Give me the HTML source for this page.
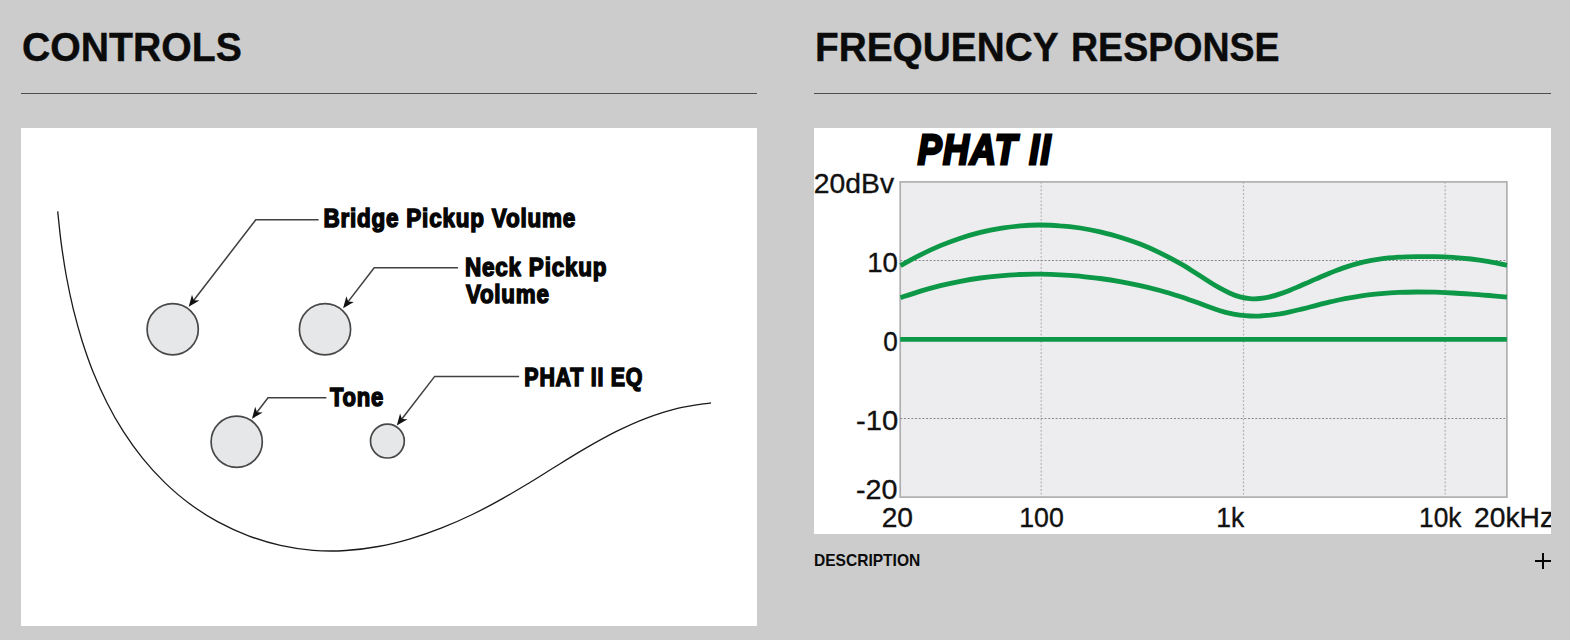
<!DOCTYPE html>
<html lang="en">
<head>
<meta charset="utf-8">
<title>Controls / Frequency Response</title>
<style>
html,body{margin:0;padding:0}
body{width:1570px;height:640px;overflow:hidden;background:#cccccc;font-family:"Liberation Sans",Arial,Helvetica,sans-serif;position:relative}
.t{position:absolute;margin:0;padding:0;white-space:nowrap;line-height:1;font-weight:bold;transform-origin:0 0;display:block}
.rule{position:absolute;height:1px;background:#4d4d4d;top:93px}
.fig{position:absolute;background:#fff;overflow:hidden}
.fig svg{display:block}
svg text{font-family:"Liberation Sans",Arial,Helvetica,sans-serif}
.plus{position:absolute;left:1535px;top:553px;width:16px;height:16px}
.plus i{position:absolute;background:#050505;display:block}
.plus i.h{left:0;top:7px;width:16px;height:2px}
.plus i.v{left:7px;top:0;width:2px;height:16px}
</style>
</head>
<body>
<section class="col controls">
<h2 class="t " style="left:21.98px;top:26.53px;font-size:41.42px;transform:scaleX(0.9459);color:#0b0b0b;-webkit-text-stroke:0.42px #0b0b0b">CONTROLS</h2>
<div class="rule" style="left:21px;width:736px"></div>
<div class="fig" style="left:21px;top:128px;width:736px;height:498px">
<svg width="736" height="498" viewBox="21 128 736 498">
<rect x="21" y="128" width="736" height="498" fill="#fff"/>
<path d="M57.7 211.4C58.3 216.8 59.8 233.0 61.3 243.8C62.8 254.7 64.4 265.6 66.4 276.5C68.4 287.4 70.7 298.3 73.3 309.1C76.0 319.9 78.9 330.6 82.2 341.2C85.6 351.8 89.2 362.3 93.3 372.5C97.5 382.8 102.0 392.9 107.0 402.7C111.9 412.5 117.3 422.1 123.3 431.4C129.2 440.6 135.6 449.6 142.5 458.1C149.4 466.7 156.9 474.9 164.8 482.6C172.7 490.2 181.1 497.5 190.0 504.0C198.9 510.6 208.3 516.6 218.0 521.9C227.8 527.2 238.1 531.9 248.5 535.8C258.9 539.7 269.7 543.0 280.4 545.4C291.2 547.8 302.2 549.5 313.1 550.3C324.0 551.2 334.9 551.2 345.8 550.5C356.6 549.9 367.5 548.5 378.2 546.5C389.0 544.6 399.7 541.9 410.2 538.8C420.8 535.7 431.3 532.0 441.7 527.9C452.0 523.9 462.3 519.3 472.3 514.5C482.4 509.6 492.3 504.4 502.0 498.9C511.7 493.5 521.2 487.7 530.7 482.0C540.2 476.2 549.5 470.2 558.9 464.5C568.2 458.7 577.6 452.9 587.1 447.4C596.6 442.0 606.1 436.6 615.9 431.7C625.7 426.9 635.6 422.3 645.9 418.4C656.2 414.5 666.7 411.0 677.5 408.4C688.4 405.8 705.4 403.8 711.0 402.8" fill="none" stroke="#1a1a1a" stroke-width="1.3" stroke-linecap="butt"/>
<g fill="#e6e7e8" stroke="#484848" stroke-width="1.7">
<circle cx="172.7" cy="329.2" r="25.6"/>
<circle cx="325.0" cy="329.2" r="25.6"/>
<circle cx="236.7" cy="441.7" r="25.6"/>
<circle cx="387.4" cy="441.1" r="16.9"/>
</g>
<path d="M318.6 219.8L255.8 219.8L192.4 302.0" fill="none" stroke="#414141" stroke-width="1.55" stroke-linejoin="miter"/><path d="M188.7 306.8L199.4 300.6L193.8 300.2L192.0 294.8Z" fill="#111"/>
<path d="M458.0 267.7L374.2 267.7L346.8 303.4" fill="none" stroke="#414141" stroke-width="1.55" stroke-linejoin="miter"/><path d="M343.1 308.2L353.8 301.9L348.2 301.6L346.4 296.2Z" fill="#111"/>
<path d="M326.4 397.8L268.0 397.8L255.6 414.0" fill="none" stroke="#414141" stroke-width="1.55" stroke-linejoin="miter"/><path d="M252.0 418.8L262.7 412.5L257.0 412.2L255.2 406.8Z" fill="#111"/>
<path d="M519.1 376.4L434.7 376.4L400.5 420.8" fill="none" stroke="#414141" stroke-width="1.55" stroke-linejoin="miter"/><path d="M396.8 425.5L407.5 419.3L401.9 418.9L400.1 413.5Z" fill="#111"/>
<text transform="translate(323.39 226.90) scale(0.8738 1)" font-size="25.73" font-weight="bold" font-style="normal" fill="#060606" letter-spacing="0.9" stroke="#060606" stroke-width="1.4" stroke-linejoin="miter" stroke-miterlimit="2" vector-effect="non-scaling-stroke">Bridge Pickup Volume</text>
<text transform="translate(464.89 276.00) scale(0.8749 1)" font-size="25.73" font-weight="bold" font-style="normal" fill="#060606" letter-spacing="0.9" stroke="#060606" stroke-width="1.4" stroke-linejoin="miter" stroke-miterlimit="2" vector-effect="non-scaling-stroke">Neck Pickup</text>
<text transform="translate(465.90 302.70) scale(0.8593 1)" font-size="26.02" font-weight="bold" font-style="normal" fill="#060606" letter-spacing="0.9" stroke="#060606" stroke-width="1.4" stroke-linejoin="miter" stroke-miterlimit="2" vector-effect="non-scaling-stroke">Volume</text>
<text transform="translate(329.95 406.40) scale(0.8471 1)" font-size="26.02" font-weight="bold" font-style="normal" fill="#060606" letter-spacing="0.9" stroke="#060606" stroke-width="1.4" stroke-linejoin="miter" stroke-miterlimit="2" vector-effect="non-scaling-stroke">Tone</text>
<text transform="translate(524.36 386.00) scale(0.8233 1)" font-size="26.02" font-weight="bold" font-style="normal" fill="#060606" letter-spacing="0.9" stroke="#060606" stroke-width="1.4" stroke-linejoin="miter" stroke-miterlimit="2" vector-effect="non-scaling-stroke">PHAT II EQ</text>
</svg>
</div>
</section>
<section class="col freq">
<h2 style="margin:0"><span class="t " style="left:814.87px;top:26.53px;font-size:41.42px;transform:scaleX(0.9368);color:#0b0b0b;-webkit-text-stroke:0.43px #0b0b0b">FREQUENCY</span><span class="t " style="left:1070.85px;top:26.53px;font-size:41.42px;transform:scaleX(0.9063);color:#0b0b0b;-webkit-text-stroke:0.44px #0b0b0b">RESPONSE</span></h2>
<div class="rule" style="left:814px;width:737px"></div>
<div class="fig" style="left:814px;top:128px;width:737px;height:406px">
<svg width="737" height="406" viewBox="814 128 737 406">
<rect x="814" y="128" width="737" height="406" fill="#fff"/>
<rect x="900.2" y="181.9" width="606.7" height="315.20000000000005" fill="#ededef" stroke="#b0b0b0" stroke-width="1.7"/>
<g stroke="#b2b2b4" stroke-width="1.2" stroke-dasharray="1.9 1.8" fill="none">
<path d="M1041.2 181.9V497.1"/><path d="M1243.5 181.9V497.1"/><path d="M1445.2 181.9V497.1"/>
</g>
<g stroke="#88888a" stroke-width="1" stroke-dasharray="2 1.7" fill="none">
<path d="M900.2 260.5H1506.9"/><path d="M900.2 339.5H1506.9"/><path d="M900.2 418.5H1506.9"/>
</g>
<g fill="none" stroke="#0d9847" stroke-width="4.8" stroke-linecap="butt">
<path d="M900.5 265.7C903.8 263.8 913.8 258.1 920.5 254.8C927.1 251.4 933.8 248.4 940.4 245.6C947.1 242.9 953.7 240.4 960.4 238.2C967.0 236.0 973.7 234.1 980.4 232.4C987.0 230.8 993.7 229.4 1000.3 228.3C1007.0 227.3 1013.6 226.4 1020.3 225.9C1026.9 225.3 1033.6 225.0 1040.2 225.0C1046.9 225.0 1053.6 225.2 1060.2 225.8C1066.9 226.2 1073.5 227.0 1080.2 228.0C1086.8 229.0 1093.5 230.3 1100.1 231.8C1106.8 233.4 1113.5 235.1 1120.1 237.2C1126.8 239.2 1133.4 241.5 1140.1 244.1C1146.7 246.7 1153.4 249.6 1160.0 252.8C1166.7 256.0 1175.0 260.6 1180.0 263.4C1185.0 266.1 1186.7 267.3 1190.0 269.4C1193.3 271.4 1196.7 273.6 1200.0 275.8C1203.3 277.9 1206.7 280.1 1210.0 282.2C1213.3 284.3 1216.7 286.3 1220.0 288.2C1223.3 290.0 1226.7 291.8 1230.0 293.2C1233.3 294.7 1236.7 296.0 1240.0 296.9C1243.3 297.8 1246.7 298.4 1250.0 298.6C1253.3 298.9 1256.7 298.8 1260.0 298.5C1263.3 298.2 1266.7 297.6 1270.0 296.8C1273.3 296.0 1276.7 295.0 1280.0 293.9C1283.3 292.8 1286.7 291.5 1290.0 290.2C1293.3 288.9 1296.7 287.4 1300.0 286.0C1303.3 284.5 1306.7 283.1 1310.0 281.6C1313.3 280.1 1316.7 278.7 1320.0 277.2C1323.3 275.8 1325.8 274.7 1330.0 273.0C1334.2 271.4 1339.5 269.2 1345.0 267.4C1350.5 265.5 1357.0 263.5 1363.0 262.1C1369.0 260.7 1375.0 259.7 1381.0 258.9C1387.0 258.0 1393.0 257.6 1399.0 257.2C1405.0 256.8 1411.0 256.7 1417.0 256.6C1423.0 256.5 1429.0 256.5 1435.0 256.6C1441.0 256.7 1447.0 256.9 1453.0 257.3C1459.0 257.7 1465.0 258.3 1471.0 259.0C1477.0 259.7 1483.0 260.6 1489.0 261.6C1495.0 262.7 1504.0 264.7 1507.0 265.3"/>
<path d="M900.5 297.7C903.8 296.6 913.8 293.1 920.5 291.1C927.1 289.1 933.8 287.3 940.4 285.6C947.1 284.0 953.7 282.6 960.4 281.3C967.0 280.0 973.7 278.9 980.4 278.0C987.0 277.1 993.7 276.4 1000.3 275.8C1007.0 275.2 1013.6 274.8 1020.3 274.5C1026.9 274.2 1033.6 274.1 1040.2 274.2C1046.9 274.2 1053.6 274.4 1060.2 274.8C1066.9 275.1 1073.5 275.6 1080.2 276.2C1086.8 276.9 1093.5 277.6 1100.1 278.5C1106.8 279.4 1113.5 280.4 1120.1 281.6C1126.8 282.8 1133.4 284.1 1140.1 285.6C1146.7 287.0 1153.4 288.7 1160.0 290.5C1166.7 292.3 1175.0 294.9 1180.0 296.5C1185.0 298.1 1186.7 298.8 1190.0 300.0C1193.3 301.1 1196.7 302.4 1200.0 303.6C1203.3 304.9 1206.7 306.2 1210.0 307.3C1213.3 308.5 1216.7 309.7 1220.0 310.7C1223.3 311.7 1226.7 312.7 1230.0 313.4C1233.3 314.2 1236.7 314.8 1240.0 315.2C1243.3 315.6 1246.7 315.9 1250.0 316.0C1253.3 316.1 1256.7 316.1 1260.0 316.0C1263.3 315.8 1266.7 315.5 1270.0 315.2C1273.3 314.8 1276.7 314.3 1280.0 313.8C1283.3 313.2 1286.7 312.5 1290.0 311.8C1293.3 311.1 1296.7 310.3 1300.0 309.5C1303.3 308.7 1306.7 307.9 1310.0 307.0C1313.3 306.2 1316.7 305.3 1320.0 304.4C1323.3 303.6 1325.8 302.9 1330.0 301.9C1334.2 301.0 1339.5 299.7 1345.0 298.6C1350.5 297.6 1357.0 296.5 1363.0 295.6C1369.0 294.8 1375.0 294.2 1381.0 293.6C1387.0 293.1 1393.0 292.7 1399.0 292.4C1405.0 292.2 1411.0 292.1 1417.0 292.0C1423.0 292.0 1429.0 292.1 1435.0 292.2C1441.0 292.4 1447.0 292.6 1453.0 293.0C1459.0 293.3 1465.0 293.7 1471.0 294.1C1477.0 294.5 1483.0 295.0 1489.0 295.5C1495.0 296.1 1504.0 296.9 1507.0 297.2"/>
<path d="M900.2 339.3H1506.9"/>
</g>
<text transform="translate(917.64 164.00) scale(0.8337 1)" font-size="43.02" font-weight="bold" font-style="italic" fill="#000" letter-spacing="1.6" stroke="#000" stroke-width="2.6" stroke-linejoin="miter" stroke-miterlimit="2" vector-effect="non-scaling-stroke">PHAT II</text>
<text transform="translate(813.85 193.02) scale(1.0060 1)" font-size="28.12" font-weight="normal" font-style="normal" fill="#111" stroke="#111" stroke-width="0.35" stroke-linejoin="miter" stroke-miterlimit="2" vector-effect="non-scaling-stroke">20dBv</text>
<text transform="translate(867.20 271.72) scale(0.9818 1)" font-size="28.12" font-weight="normal" font-style="normal" fill="#111" stroke="#111" stroke-width="0.35" stroke-linejoin="miter" stroke-miterlimit="2" vector-effect="non-scaling-stroke">10</text>
<text transform="translate(883.36 350.82) scale(0.9280 1)" font-size="28.12" font-weight="normal" font-style="normal" fill="#111" stroke="#111" stroke-width="0.35" stroke-linejoin="miter" stroke-miterlimit="2" vector-effect="non-scaling-stroke">0</text>
<text transform="translate(855.96 429.82) scale(1.0379 1)" font-size="28.12" font-weight="normal" font-style="normal" fill="#111" stroke="#111" stroke-width="0.35" stroke-linejoin="miter" stroke-miterlimit="2" vector-effect="non-scaling-stroke">-10</text>
<text transform="translate(855.98 498.72) scale(1.0225 1)" font-size="28.12" font-weight="normal" font-style="normal" fill="#111" stroke="#111" stroke-width="0.35" stroke-linejoin="miter" stroke-miterlimit="2" vector-effect="non-scaling-stroke">-20</text>
<text transform="translate(881.65 527.33) scale(1.0029 1)" font-size="28.12" font-weight="normal" font-style="normal" fill="#111" stroke="#111" stroke-width="0.35" stroke-linejoin="miter" stroke-miterlimit="2" vector-effect="non-scaling-stroke">20</text>
<text transform="translate(1019.25 527.33) scale(0.9513 1)" font-size="28.12" font-weight="normal" font-style="normal" fill="#111" stroke="#111" stroke-width="0.35" stroke-linejoin="miter" stroke-miterlimit="2" vector-effect="non-scaling-stroke">100</text>
<text transform="translate(1216.31 527.33) scale(0.9459 1)" font-size="28.12" font-weight="normal" font-style="normal" fill="#111" stroke="#111" stroke-width="0.35" stroke-linejoin="miter" stroke-miterlimit="2" vector-effect="non-scaling-stroke">1k</text>
<text transform="translate(1419.03 527.33) scale(0.9346 1)" font-size="28.12" font-weight="normal" font-style="normal" fill="#111" stroke="#111" stroke-width="0.35" stroke-linejoin="miter" stroke-miterlimit="2" vector-effect="non-scaling-stroke">10k</text>
<text transform="translate(1474.05 527.33) scale(1.0048 1)" font-size="28.12" font-weight="normal" font-style="normal" fill="#111" stroke="#111" stroke-width="0.35" stroke-linejoin="miter" stroke-miterlimit="2" vector-effect="non-scaling-stroke">20kHz</text>
</svg>
</div>
<div class="t " style="left:813.73px;top:553.22px;font-size:16.86px;transform:scaleX(0.9216);color:#0b0b0b">DESCRIPTION</div>
<div class="plus"><i class="h"></i><i class="v"></i></div>
</section>
</body>
</html>
